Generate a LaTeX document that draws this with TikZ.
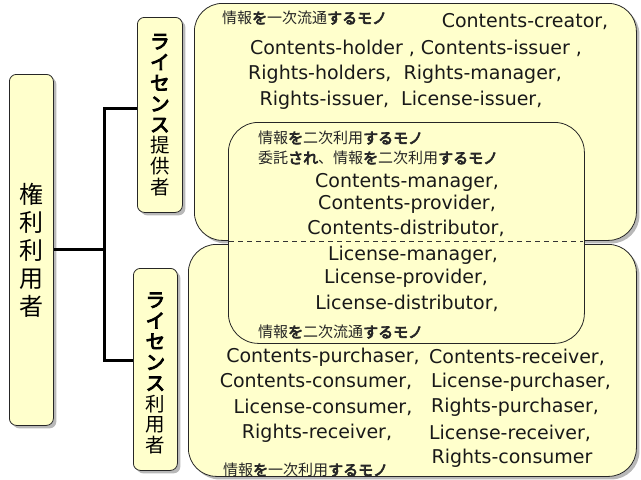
\documentclass[tikz,border=0pt]{standalone}
\usepackage{fontspec}
\setmainfont{DejaVu Sans}
\newfontfamily\jp[AutoFakeBold=4.5]{Noto Sans CJK JP}
\usetikzlibrary{shadows}
\definecolor{boxfill}{HTML}{FFFFCC}
\begin{document}
\begin{tikzpicture}[x=1pt,y=-1pt,
  box/.style={draw=black!85, line width=0.8pt, fill=boxfill,
    drop shadow={shadow xshift=3pt, shadow yshift=-3pt, fill=black!35, opacity=0.8}},
  plainbox/.style={draw=black!85, line width=0.8pt, fill=boxfill},
  conn/.style={line width=3pt, black},
  en/.style={inner sep=0pt, font=\fontsize{19}{21}\selectfont, text=black!90},
  jl/.style={inner sep=0pt, anchor=west, font=\jp\fontsize{15}{17}\selectfont, text=black!85},
  vt/.style={align=center, inner sep=0pt, font=\jp\fontsize{19.5}{20.8}\selectfont}
]
\useasboundingbox (0,0) rectangle (641,480);

% left box
\node[box, rounded corners=7, minimum width=44, minimum height=351, anchor=north west,
  align=center, font=\jp\fontsize{24}{28}\selectfont, inner sep=0pt] (L) at (9,74)
  {権\\利\\利\\用\\者};

% vertical boxes
\node[box, rounded corners=7, minimum width=45, minimum height=195, anchor=north west] (T) at (137,17) {};
\node[vt] (Tt) at (T.center) {{\bfseries ラ}\\{\bfseries イ}\\{\bfseries セ}\\{\bfseries ン}\\{\bfseries ス}\\提\\供\\者};
\node[box, rounded corners=7, minimum width=44, minimum height=202, anchor=north west] (B) at (133,268) {};
\node[vt] (Bt) at ([yshift=-4pt]B.center) {{\bfseries ラ}\\{\bfseries イ}\\{\bfseries セ}\\{\bfseries ン}\\{\bfseries ス}\\利\\用\\者};

% connectors
\coordinate (Jt) at (104,108);
\coordinate (Jb) at (104,360);
\draw[conn] (L.east) -- (L.east -| Jt);
\draw[conn] (Jt -| T.west) -- (Jt) -- (Jb) -- (Jb -| B.west);

% big boxes
\node[box, rounded corners=28, minimum width=442, minimum height=237, anchor=north west] (P) at (194,3) {};
\node[box, rounded corners=28, minimum width=448, minimum height=232, anchor=north west] (U) at (188,244) {};
% inner box
\node[plainbox, rounded corners=30, minimum width=356, minimum height=221, anchor=north west] (I) at (228,122) {};
\coordinate (dl) at (229,241);
\coordinate (dr) at (583,241);
\draw[dash pattern=on 5pt off 4pt, line width=0.7pt, black!80] (dl) -- (dr);

% top box texts
\node[jl] (j1) at (222,18) {情報{\bfseries を}一次流通{\bfseries するモノ}};
\node[en] (t1) at (525,22) {Contents-creator,};
\node[en] (t2) at (416,48) {Contents-holder , Contents-issuer ,};
\node[en] (t3) at (405,74) {Rights-holders,\ \ Rights-manager,};
\node[en] (t4) at (401,100) {Rights-issuer,\ \ License-issuer,};

% inner box texts
\node[jl] (j2) at (258,138) {情報{\bfseries を}二次利用{\bfseries するモノ}};
\node[jl] (j3) at (258,158) {委託{\bfseries され}、情報{\bfseries を}二次利用{\bfseries するモノ}};
\node[en] (c1) at (407,182) {Contents-manager,};
\node[en] (c2) at (407,204) {Contents-provider,};
\node[en] (c3) at (406,228) {Contents-distributor,};
\node[en] (l1) at (413,255) {License-manager,};
\node[en] (l2) at (406,278) {License-provider,};
\node[en] (l3) at (407,303) {License-distributor,};
\node[jl] (j4) at (258,332) {情報{\bfseries を}二次流通{\bfseries するモノ}};

% bottom box texts
\node[en] (b1l) at (323,357) {Contents-purchaser,};
\node[en] (b1r) at (517,357) {Contents-receiver,};
\node[en] (b2l) at (316,382) {Contents-consumer,};
\node[en] (b2r) at (521,382) {License-purchaser,};
\node[en] (b3l) at (323,407) {License-consumer,};
\node[en] (b3r) at (515,407) {Rights-purchaser,};
\node[en] (b4l) at (317,433) {Rights-receiver,};
\node[en] (b4r) at (510,433) {License-receiver,};
\node[en] (b5r) at (512,458) {Rights-consumer};
\node[jl] (j5) at (223,470) {情報{\bfseries を}一次利用{\bfseries するモノ}};
\end{tikzpicture}
\end{document}
